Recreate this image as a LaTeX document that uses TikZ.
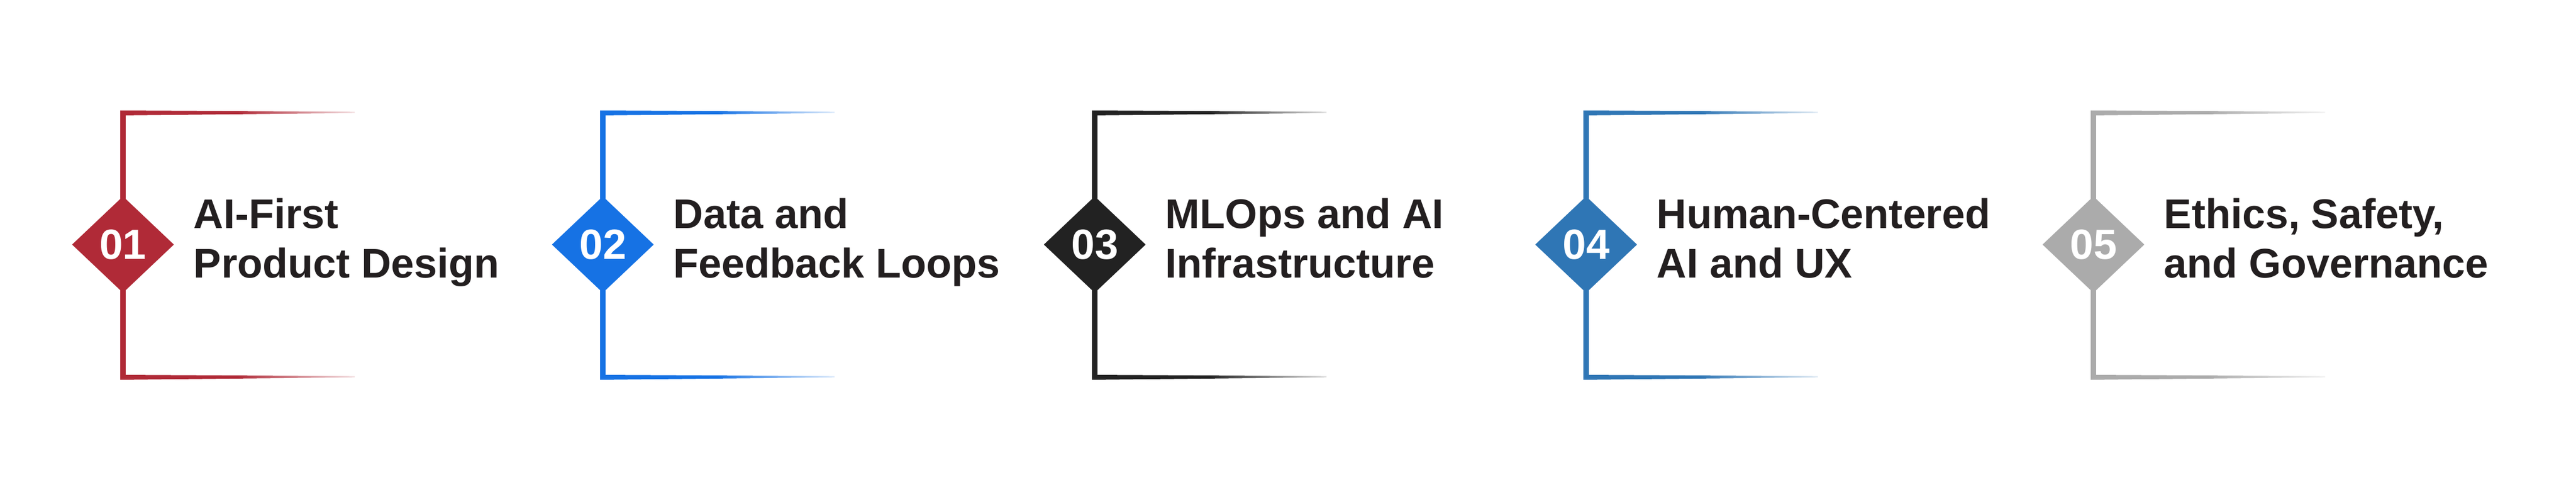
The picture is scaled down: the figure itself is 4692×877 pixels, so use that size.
\documentclass[tikz,border=0pt]{standalone}
\usepackage{fontspec}
\setmainfont{Liberation Sans}
\usetikzlibrary{shapes.geometric}
\definecolor{cred}{HTML}{B02A37}
\definecolor{cblue}{HTML}{1672E4}
\definecolor{cblack}{HTML}{222222}
\definecolor{csteel}{HTML}{2F76B5}
\definecolor{cgray}{HTML}{ABABAB}
\definecolor{ctext}{HTML}{231F20}
\begin{document}
\begin{tikzpicture}[x=0.25pt,y=-0.25pt,
  title/.style={font=\fontsize{18.85pt}{22.5pt}\selectfont\bfseries, text=ctext, inner sep=0pt, anchor=base west},
  badge/.style={diamond, inner sep=0pt, minimum width=46.5pt, minimum height=44pt,
                font=\fontsize{19.2pt}{22pt}\selectfont\bfseries, text=white},
  ]
\useasboundingbox[fill=white] (0,0) rectangle (4692,877);
\foreach \cx/\col/\num/\la/\lb [count=\i] in {
   224/cred/01/{AI-First}/{Product Design},
  1098/cblue/02/{Data and}/{Feedback Loops},
  1994/cblack/03/{MLOps and AI}/{Infrastructure},
  2889/csteel/04/{Human-Centered}/{AI and UX},
  3813/cgray/05/{Ethics, Safety,}/{and Governance}}{
  % vertical spine
  \fill[\col] (\cx-5,201) rectangle (\cx+5,691);
  % top and bottom tapering bars
  \shade[left color=\col, right color=\col!15, middle color=\col]
    (\cx-5,201) -- (\cx+422,203.3) -- (\cx+422,205.7) -- (\cx-5,210) -- cycle;
  \shade[left color=\col, right color=\col!15, middle color=\col]
    (\cx-5,682) -- (\cx+422,684.3) -- (\cx+422,686.7) -- (\cx-5,691) -- cycle;
  % badge
  \node[badge, fill=\col] (d\i) at (\cx,445) {\num};
  % title
  \node[title] (a\i) at (\cx+128,415) {\la};
  \node[title] (b\i) at (\cx+128,505) {\lb};
}
\end{tikzpicture}
\end{document}
